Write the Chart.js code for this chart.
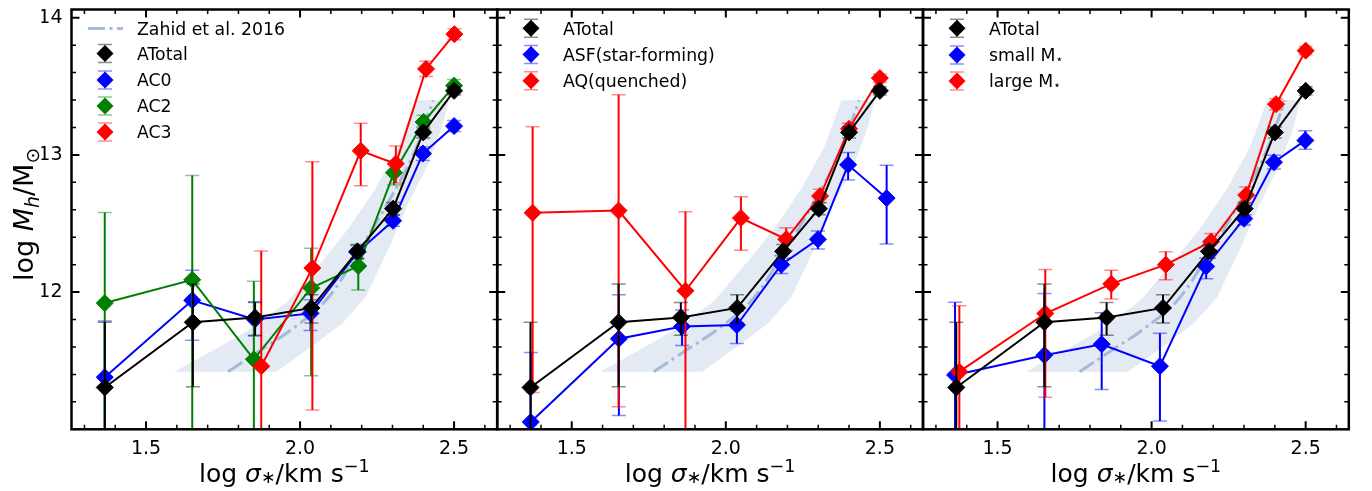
<!DOCTYPE html>
<html>
<head>
<meta charset="utf-8">
<script src="https://cdn.jsdelivr.net/npm/chart.js@4.4.1/dist/chart.umd.min.js"></script>
<style>
  html, body { margin: 0; padding: 0; background: #fff; }
  #wrap { position: relative; width: 1372px; height: 491px; overflow: hidden; background: #fff; }
  #wrap canvas { position: absolute; left: 0; top: 0; }
</style>
</head>
<body>
<div id="wrap">
  <canvas id="p1" width="1372" height="491"></canvas>
  <canvas id="p2" width="1372" height="491"></canvas>
  <canvas id="p3" width="1372" height="491"></canvas>
</div>
<script>
// ---------------- axis ticks ----------------
const xTickValues = [1.5, 2.0, 2.5];
const xTickLabels = ['1.5', '2.0', '2.5'];
const xMinorTicks = [1.3, 1.4, 1.6, 1.7, 1.8, 1.9, 2.1, 2.2, 2.3, 2.4, 2.6];
const yTickValues = [12, 13, 14];
const yTickLabels = ['12', '13', '14'];
const yMinorTicks = [11.2, 11.4, 11.6, 11.8, 12.2, 12.4, 12.6, 12.8, 13.2, 13.4, 13.6, 13.8];

// ---------------- all galaxies ----------------
const totalX  = [1.366, 1.652, 1.854, 2.037, 2.186, 2.302, 2.400, 2.500];
const totalY  = [11.305, 11.780, 11.815, 11.885, 12.297, 12.608, 13.164, 13.467];
const totalUp = [0.475, 0.28, 0.11, 0.095, 0.05, 0.045, 0.04, 0.03];
const totalDn = [0.60, 0.47, 0.13, 0.11, 0.05, 0.045, 0.04, 0.03];

// ---------------- classes C0 / C2 / C3 ----------------
const c0X  = [1.366, 1.650, 1.853, 2.034, 2.186, 2.302, 2.399, 2.500];
const c0Y  = [11.38, 11.94, 11.80, 11.845, 12.29, 12.52, 13.01, 13.21];
const c0Up = [0.41, 0.22, 0.13, 0.10, 0.05, 0.04, 0.05, 0.04];
const c0Dn = [0.45, 0.29, 0.12, 0.125, 0.05, 0.04, 0.05, 0.04];

const c2X  = [1.366, 1.650, 1.850, 2.036, 2.189, 2.305, 2.401, 2.500];
const c2Y  = [11.92, 12.09, 11.51, 12.03, 12.19, 12.87, 13.24, 13.505];
const c2Up = [0.66, 0.76, 0.57, 0.29, 0.13, 0.09, 0.05, 0.045];
const c2Dn = [1.00, 1.20, 0.60, 0.64, 0.175, 0.09, 0.05, 0.045];

const c3X  = [1.874, 2.040, 2.197, 2.311, 2.409, 2.501];
const c3Y  = [11.46, 12.175, 13.03, 12.935, 13.627, 13.88];
const c3Up = [0.84, 0.775, 0.20, 0.13, 0.055, 0.04];
const c3Dn = [0.60, 1.035, 0.255, 0.14, 0.055, 0.04];

// ---------------- star-forming / quenched ----------------
const sfX  = [1.367, 1.653, 1.858, 2.036, 2.180, 2.299, 2.397, 2.522];
const sfY  = [11.053, 11.66, 11.75, 11.76, 12.20, 12.385, 12.928, 12.685];
const sfUp = [0.507, 0.32, 0.12, 0.10, 0.065, 0.06, 0.09, 0.24];
const sfDn = [0.50, 0.56, 0.14, 0.135, 0.065, 0.07, 0.11, 0.335];

const qX  = [1.373, 1.652, 1.869, 2.049, 2.196, 2.306, 2.400, 2.500];
const qY  = [12.578, 12.594, 12.01, 12.54, 12.386, 12.70, 13.19, 13.56];
const qUp = [0.628, 0.845, 0.575, 0.155, 0.084, 0.05, 0.04, 0.03];
const qDn = [1.31, 1.43, 1.10, 0.235, 0.08, 0.05, 0.04, 0.03];

// ---------------- small / large stellar mass ----------------
const smallX  = [1.362, 1.652, 1.838, 2.027, 2.177, 2.300, 2.397, 2.499];
const smallY  = [11.396, 11.54, 11.62, 11.46, 12.187, 12.535, 12.947, 13.106];
const smallUp = [0.53, 0.45, 0.23, 0.24, 0.06, 0.055, 0.05, 0.07];
const smallDn = [0.50, 0.60, 0.33, 0.40, 0.09, 0.045, 0.05, 0.065];

const largeX  = [1.376, 1.655, 1.869, 2.046, 2.193, 2.307, 2.404, 2.500];
const largeY  = [11.42, 11.844, 12.06, 12.20, 12.367, 12.707, 13.37, 13.76];
const largeUp = [0.48, 0.32, 0.10, 0.095, 0.06, 0.06, 0.04, 0.03];
const largeDn = [0.50, 0.61, 0.11, 0.11, 0.06, 0.06, 0.04, 0.03];

// ---------------- Zahid et al. 2016 relation and scatter ----------------
const zahidX = [1.766, 1.887, 1.968, 2.082, 2.170, 2.310, 2.379, 2.432];
const zahidY = [11.42, 11.60, 11.72, 11.935, 12.223, 12.75, 13.06, 13.398];
const bandX = [1.592, 1.679, 1.831, 1.962, 2.071, 2.157, 2.244, 2.320, 2.375,
               2.483, 2.462, 2.418, 2.353, 2.288, 2.212, 2.136, 2.049, 1.924];
const bandY = [11.42, 11.527, 11.72, 11.935, 12.223, 12.463, 12.75, 13.06, 13.398,
               13.398, 13.21, 12.94, 12.655, 12.32, 11.96, 11.77, 11.624, 11.42];

// ---------------- layout / style ----------------
const W = 1372, H = 491;
const X_MIN = 1.258, X_MAX = 2.640, Y_MIN = 11.0, Y_MAX = 14.06;
const AREA_TOP = 4.5, AREA_BOTTOM = 429.3;
const Y_AXIS_W = 30, X_AXIS_H = 40;
const FONT = "'DejaVu Sans'";
const BLACK = '#000000', BLUE = '#0000ff', GREEN = '#008000', RED = '#ff0000';
const ZAHID_COLOR = 'rgba(160,183,215,0.95)';
const BAND_COLOR = 'rgba(176,196,222,0.35)';
const ZAHID_DASH = [17, 4.5, 3, 4.5];
const MARKER_R = 8.5;

Chart.defaults.font.family = FONT;
Chart.defaults.color = '#000';

function pts(xs, ys) { return xs.map((v, i) => ({ x: v, y: ys[i] })); }

function seriesDataset(label, color, xs, ys, up, dn) {
  return {
    label, data: pts(xs, ys), errUp: up, errDown: dn,
    showLine: true, borderColor: color, backgroundColor: color, borderWidth: 2,
    pointStyle: 'rectRot', pointRadius: MARKER_R, pointHoverRadius: MARKER_R,
    pointBorderWidth: 1, pointBorderColor: color, pointBackgroundColor: color,
    tension: 0
  };
}
function zahidDataset() {
  return {
    label: 'Zahid et al. 2016', data: pts(zahidX, zahidY), showLine: true,
    borderColor: ZAHID_COLOR, borderWidth: 3, borderDash: ZAHID_DASH,
    pointRadius: 0, pointHoverRadius: 0, tension: 0.35, fill: false
  };
}
function bandDataset() {
  return {
    label: 'scatter band', data: pts(bandX, bandY), showLine: true, fill: 'shape',
    backgroundColor: BAND_COLOR, borderColor: 'rgba(0,0,0,0)', borderWidth: 0,
    pointRadius: 0, pointHoverRadius: 0, tension: 0
  };
}

// ---------------- rich text (italic / sub / superscript) ----------------
function richFont(p, size) {
  return (p.it ? 'italic ' : '') + (size * (p.s || 1)).toFixed(2) + 'px ' + FONT;
}
function richWidth(ctx, pieces, size) {
  let w = 0;
  pieces.forEach(p => { ctx.font = richFont(p, size); w += ctx.measureText(p.t).width; });
  return w;
}
function drawRich(ctx, pieces, size, x, y) {
  let cx = x;
  ctx.textBaseline = 'alphabetic';
  ctx.textAlign = 'left';
  pieces.forEach(p => {
    ctx.font = richFont(p, size);
    ctx.fillText(p.t, cx, y + (p.dy || 0) * size);
    cx += ctx.measureText(p.t).width;
  });
}

const xTitle = [{ t: 'log ' }, { t: 'σ', it: true }, { t: '∗', s: 0.7, dy: 0.04 },
                { t: '/km s' }, { t: '−1', s: 0.7, dy: -0.4 }];
const yTitle = [{ t: 'log ' }, { t: 'M', it: true }, { t: 'h', it: true, s: 0.7, dy: 0.2 },
                { t: '/M' }, { t: '⊙', s: 0.7, dy: 0.22 }];

// ---------------- plugins ----------------
const errorBarPlugin = {
  id: 'errorBars',
  beforeDatasetDraw(chart, args) {
    const ds = chart.data.datasets[args.index];
    if (!ds.errUp) return;
    const { ctx, chartArea: a, scales: { x, y } } = chart;
    ctx.save();
    ctx.beginPath();
    ctx.rect(a.left, a.top, a.right - a.left, a.bottom - a.top);
    ctx.clip();
    ctx.strokeStyle = ds.borderColor;
    ds.data.forEach((p, i) => {
      const px = x.getPixelForValue(p.x);
      const yt = y.getPixelForValue(p.y + ds.errUp[i]);
      const yb = y.getPixelForValue(p.y - ds.errDown[i]);
      ctx.globalAlpha = 1;
      ctx.lineWidth = 2;
      ctx.beginPath(); ctx.moveTo(px, yt); ctx.lineTo(px, yb); ctx.stroke();
      ctx.globalAlpha = 0.45;
      ctx.lineWidth = 1.5;
      ctx.beginPath();
      ctx.moveTo(px - 7, yt); ctx.lineTo(px + 7, yt);
      ctx.moveTo(px - 7, yb); ctx.lineTo(px + 7, yb);
      ctx.stroke();
    });
    ctx.restore();
  }
};

const framePlugin = {
  id: 'frame',
  afterDraw(chart) {
    const { ctx, chartArea: a, scales: { x, y } } = chart;
    ctx.save();
    ctx.strokeStyle = '#000';
    const xt = (vals, len, lw) => {
      ctx.lineWidth = lw; ctx.beginPath();
      vals.forEach(v => {
        const px = x.getPixelForValue(v);
        ctx.moveTo(px, a.bottom); ctx.lineTo(px, a.bottom - len);
        ctx.moveTo(px, a.top); ctx.lineTo(px, a.top + len);
      });
      ctx.stroke();
    };
    const yt = (vals, len, lw) => {
      ctx.lineWidth = lw; ctx.beginPath();
      vals.forEach(v => {
        const py = y.getPixelForValue(v);
        ctx.moveTo(a.left, py); ctx.lineTo(a.left + len, py);
        ctx.moveTo(a.right, py); ctx.lineTo(a.right - len, py);
      });
      ctx.stroke();
    };
    xt(xMinorTicks, 4.5, 1.5); xt(xTickValues, 8, 2);
    yt(yMinorTicks, 4.5, 1.5); yt(yTickValues, 8, 2);
    ctx.lineWidth = 2.5;
    ctx.strokeRect(a.left, a.top, a.right - a.left, a.bottom - a.top);
    ctx.restore();
  }
};

function makeDecorPlugin(panel) {
  return {
    id: 'decor',
    afterDraw(chart) {
      const { ctx, chartArea: a } = chart;
      ctx.save();
      ctx.fillStyle = '#000';
      // x title
      const xs = 25;
      const xw = richWidth(ctx, xTitle, xs);
      drawRich(ctx, xTitle, xs, (a.left + a.right) / 2 - xw / 2, 482.3);
      // y title
      if (panel.yLabels) {
        const ys = 27;
        const yw = richWidth(ctx, yTitle, ys);
        ctx.save();
        ctx.translate(33.3, (a.top + a.bottom) / 2 - 5);
        ctx.rotate(-Math.PI / 2);
        drawRich(ctx, yTitle, ys, -yw / 2, 0);
        ctx.restore();
      }
      // legend
      const lg = panel.legend;
      const fs = 17.3;
      lg.entries.forEach((e, i) => {
        const ly = lg.ys[i];
        if (e.kind === 'line') {
          ctx.save();
          ctx.strokeStyle = ZAHID_COLOR; ctx.lineWidth = 3; ctx.setLineDash(ZAHID_DASH);
          ctx.beginPath(); ctx.moveTo(lg.mx - 17, ly); ctx.lineTo(lg.mx + 18, ly); ctx.stroke();
          ctx.restore();
        } else {
          ctx.save();
          ctx.strokeStyle = e.color; ctx.globalAlpha = 0.45; ctx.lineWidth = 1.5;
          ctx.beginPath();
          ctx.moveTo(lg.mx, ly - 9); ctx.lineTo(lg.mx, ly + 9);
          ctx.moveTo(lg.mx - 7, ly - 9); ctx.lineTo(lg.mx + 7, ly - 9);
          ctx.moveTo(lg.mx - 7, ly + 9); ctx.lineTo(lg.mx + 7, ly + 9);
          ctx.stroke();
          ctx.globalAlpha = 1;
          ctx.fillStyle = e.color;
          ctx.beginPath();
          ctx.moveTo(lg.mx - MARKER_R, ly); ctx.lineTo(lg.mx, ly - MARKER_R);
          ctx.lineTo(lg.mx + MARKER_R, ly); ctx.lineTo(lg.mx, ly + MARKER_R);
          ctx.closePath(); ctx.fill();
          ctx.restore();
        }
        ctx.fillStyle = '#000';
        drawRich(ctx, e.text, fs, lg.tx, ly + 0.3645 * fs);
      });
      ctx.restore();
    }
  };
}

// ---------------- panels ----------------
const panels = [
  {
    canvas: 'p1', left: 71.5, right: 497.2, yLabels: true,
    series: [
      seriesDataset('ATotal', BLACK, totalX, totalY, totalUp, totalDn),
      seriesDataset('AC3', RED, c3X, c3Y, c3Up, c3Dn),
      seriesDataset('AC2', GREEN, c2X, c2Y, c2Up, c2Dn),
      seriesDataset('AC0', BLUE, c0X, c0Y, c0Up, c0Dn)
    ],
    legend: {
      mx: 105, tx: 137, ys: [28.5, 53.5, 80, 106, 132],
      entries: [
        { kind: 'line', text: [{ t: 'Zahid et al. 2016' }] },
        { color: BLACK, text: [{ t: 'ATotal' }] },
        { color: BLUE, text: [{ t: 'AC0' }] },
        { color: GREEN, text: [{ t: 'AC2' }] },
        { color: RED, text: [{ t: 'AC3' }] }
      ]
    }
  },
  {
    canvas: 'p2', left: 497.2, right: 923, yLabels: false,
    series: [
      seriesDataset('ATotal', BLACK, totalX, totalY, totalUp, totalDn),
      seriesDataset('AQ(quenched)', RED, qX, qY, qUp, qDn),
      seriesDataset('ASF(star-forming)', BLUE, sfX, sfY, sfUp, sfDn)
    ],
    legend: {
      mx: 531, tx: 563, ys: [28.3, 54.5, 80.7],
      entries: [
        { color: BLACK, text: [{ t: 'ATotal' }] },
        { color: BLUE, text: [{ t: 'ASF(star-forming)' }] },
        { color: RED, text: [{ t: 'AQ(quenched)' }] }
      ]
    }
  },
  {
    canvas: 'p3', left: 923, right: 1348.8, yLabels: false,
    series: [
      seriesDataset('ATotal', BLACK, totalX, totalY, totalUp, totalDn),
      seriesDataset('large M', RED, largeX, largeY, largeUp, largeDn),
      seriesDataset('small M', BLUE, smallX, smallY, smallUp, smallDn)
    ],
    legend: {
      mx: 957, tx: 989, ys: [28.3, 55, 81],
      entries: [
        { color: BLACK, text: [{ t: 'ATotal' }] },
        { color: BLUE, text: [{ t: 'small M' }, { t: '⋆', s: 0.7, dy: 0.12 }] },
        { color: RED, text: [{ t: 'large M' }, { t: '⋆', s: 0.7, dy: 0.12 }] }
      ]
    }
  }
];

panels.forEach(panel => {
  new Chart(document.getElementById(panel.canvas), {
    type: 'scatter',
    data: { datasets: [...panel.series, zahidDataset(), bandDataset()] },
    plugins: [errorBarPlugin, framePlugin, makeDecorPlugin(panel)],
    options: {
      responsive: false, animation: false, devicePixelRatio: 1, events: [],
      layout: {
        padding: {
          left: panel.left - Y_AXIS_W, right: W - panel.right,
          top: AREA_TOP, bottom: H - AREA_BOTTOM - X_AXIS_H
        }
      },
      plugins: { legend: { display: false }, tooltip: { enabled: false } },
      scales: {
        x: {
          type: 'linear', min: X_MIN, max: X_MAX,
          grid: { display: false, drawTicks: false }, border: { display: false },
          ticks: {
            font: { size: 19 }, color: '#000', padding: 8, maxRotation: 0, autoSkip: false,
            callback: (v, i) => xTickLabels[i]
          },
          afterBuildTicks: s => { s.ticks = xTickValues.map(v => ({ value: v })); },
          afterFit: s => { s.height = X_AXIS_H; s.paddingLeft = 0; s.paddingRight = 0; }
        },
        y: {
          type: 'linear', min: Y_MIN, max: Y_MAX,
          grid: { display: false, drawTicks: false }, border: { display: false },
          ticks: {
            display: panel.yLabels, font: { size: 19 }, color: '#000', padding: 9,
            autoSkip: false, callback: (v, i) => yTickLabels[i]
          },
          afterBuildTicks: s => { s.ticks = yTickValues.map(v => ({ value: v })); },
          afterFit: s => { s.width = Y_AXIS_W; s.paddingTop = 0; s.paddingBottom = 0; }
        }
      }
    }
  });
});
</script>
</body>
</html>
